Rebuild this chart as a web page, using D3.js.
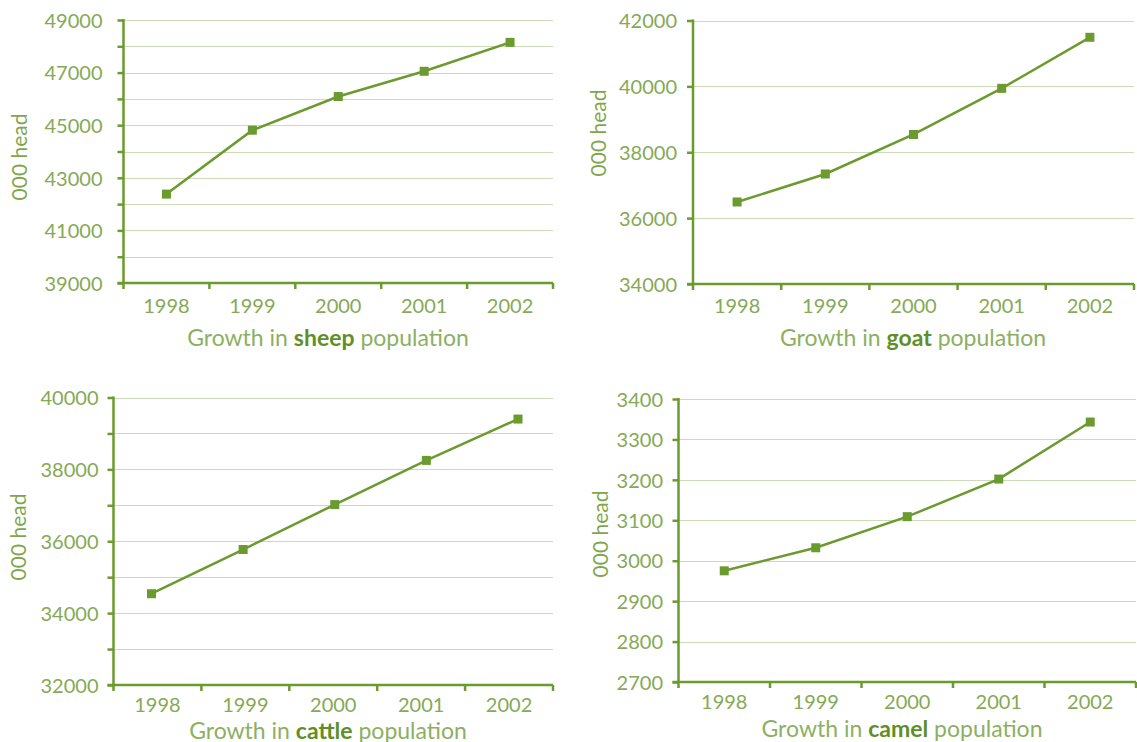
<!DOCTYPE html>
<html>
<head>
<meta charset="utf-8">
<script src="https://cdn.jsdelivr.net/npm/d3@7"></script>
<style>
  html, body { margin: 0; padding: 0; background: #ffffff; }
  svg { display: block; font-family: "Lato", "Open Sans", sans-serif; }
</style>
</head>
<body>
<script>
// ---------- data ----------
const years = ["1998", "1999", "2000", "2001", "2002"];

const sheep  = [42380, 44810, 46090, 47050, 48150];
const goat   = [36490, 37340, 38540, 39940, 41490];
const cattle = [34540, 35770, 37020, 38250, 39400];
const camel  = [2975, 3032, 3109, 3202, 3343];

const animals = ["sheep", "goat", "cattle", "camel"];

const sheepTicks  = [39000, 40000, 41000, 42000, 43000, 44000, 45000, 46000, 47000, 48000, 49000];
const sheepLabels = [39000, 41000, 43000, 45000, 47000, 49000];
const goatTicks   = [34000, 36000, 38000, 40000, 42000];
const goatLabels  = [34000, 36000, 38000, 40000, 42000];
const cattleTicks  = [32000, 33000, 34000, 35000, 36000, 37000, 38000, 39000, 40000];
const cattleLabels = [32000, 34000, 36000, 38000, 40000];
const camelTicks  = [2700, 2800, 2900, 3000, 3100, 3200, 3300, 3400];
const camelLabels = [2700, 2800, 2900, 3000, 3100, 3200, 3300, 3400];

const yTitle = "000 head";
const titleBefore = "Growth in ";
const titleAfter = " population";

// ---------- layout (positions only) ----------
const layout = [
  { values: sheep,  ticks: sheepTicks,  labels: sheepLabels,  animal: animals[0],
    left: 123.5, right: 553, top: 20, bottom: 283, labelPad: 15, xLabelY: 312.5,
    titleX: 328, titleY: 346, yTitleX: 20, yTitleY: 157 },
  { values: goat,   ticks: goatTicks,   labels: goatLabels,   animal: animals[1],
    left: 693, right: 1134, top: 20.5, bottom: 284, labelPad: 10, xLabelY: 312.5,
    titleX: 913, titleY: 346, yTitleX: 599, yTitleY: 133 },
  { values: cattle, ticks: cattleTicks, labels: cattleLabels, animal: animals[2],
    left: 113.5, right: 553, top: 397.5, bottom: 685, labelPad: 9, xLabelY: 711.5,
    titleX: 328, titleY: 738.5, yTitleX: 19, yTitleY: 537, pointRange: [151.5, 518] },
  { values: camel,  ticks: camelTicks,  labels: camelLabels,  animal: animals[3],
    left: 678.5, right: 1136, top: 399, bottom: 682, labelPad: 9.5, xLabelY: 709,
    titleX: 902, titleY: 737, yTitleX: 601, yTitleY: 534 }
];

// ---------- style ----------
const C_AXIS = "#6b9a2e";
const C_LINE = "#6b9a2e";
const C_GRID = "#cddcb8";
const C_TICK = "#85a956";
const C_TITLE = "#8cb062";
const C_BOLD = "#5f8f26";
const C_YTITLE = "#7fa64b";

const svg = d3.select("body").append("svg")
  .attr("width", 1137).attr("height", 742);

layout.forEach(cfg => {
  const g = svg.append("g");
  const domain = [cfg.ticks[0], cfg.ticks[cfg.ticks.length - 1]];
  const x = d3.scaleBand().domain(years).range([cfg.left, cfg.right]).padding(0);
  const y = d3.scaleLinear().domain(domain).range([cfg.bottom, cfg.top]);
  const bw = x.bandwidth();
  const xp = d3.scalePoint().domain(years)
    .range(cfg.pointRange || [x(years[0]) + bw / 2, x(years[years.length - 1]) + bw / 2]);

  // gridlines
  g.append("g").selectAll("line")
    .data(cfg.ticks.filter(t => t !== domain[0]))
    .join("line")
    .attr("x1", cfg.left).attr("x2", cfg.right)
    .attr("y1", d => Math.round(y(d)) + 0.5).attr("y2", d => Math.round(y(d)) + 0.5)
    .attr("stroke", C_GRID).attr("stroke-width", 1);

  // y axis
  const yAxis = d3.axisLeft(y)
    .tickValues(cfg.ticks)
    .tickSize(6).tickSizeOuter(0)
    .tickPadding(cfg.labelPad)
    .tickFormat(d => cfg.labels.includes(d) ? String(d) : "");
  const yg = g.append("g").attr("transform", `translate(${cfg.left},0)`).call(yAxis);
  yg.select(".domain").attr("stroke", C_AXIS).attr("stroke-width", 2.5)
    .attr("d", `M0,${cfg.bottom + 1}V${cfg.top - 1}`);
  yg.selectAll(".tick line").attr("stroke", C_AXIS).attr("stroke-width", 2.5);
  yg.selectAll(".tick text")
    .attr("fill", C_TICK).attr("font-size", 20).attr("dy", "0.36em")
    .attr("font-family", "Lato, 'Open Sans', sans-serif");

  // x axis line
  g.append("line")
    .attr("x1", cfg.left - 6).attr("x2", cfg.right)
    .attr("y1", cfg.bottom).attr("y2", cfg.bottom)
    .attr("stroke", C_AXIS).attr("stroke-width", 2.5);
  // x ticks at band boundaries
  const bounds = years.map(d => x(d)).concat([cfg.right]);
  g.append("g").selectAll("line")
    .data(bounds)
    .join("line")
    .attr("x1", d => d).attr("x2", d => d)
    .attr("y1", cfg.bottom).attr("y2", cfg.bottom + 6)
    .attr("stroke", C_AXIS).attr("stroke-width", 2.5);
  // x labels
  g.append("g").selectAll("text")
    .data(years)
    .join("text")
    .attr("x", d => x(d) + bw / 2)
    .attr("y", cfg.xLabelY)
    .attr("text-anchor", "middle")
    .attr("fill", C_TICK).attr("font-size", 20)
    .text(d => d);

  // line
  const line = d3.line()
    .x((d, i) => xp(years[i]))
    .y(d => y(d));
  g.append("path")
    .datum(cfg.values)
    .attr("d", line)
    .attr("fill", "none")
    .attr("stroke", C_LINE).attr("stroke-width", 2.5);

  // markers
  g.append("g").selectAll("rect")
    .data(cfg.values)
    .join("rect")
    .attr("x", (d, i) => xp(years[i]) - 4.5)
    .attr("y", d => y(d) - 4.5)
    .attr("width", 9).attr("height", 9)
    .attr("fill", C_LINE);

  // y title
  g.append("text")
    .attr("transform", `translate(${cfg.yTitleX},${cfg.yTitleY}) rotate(-90)`)
    .attr("text-anchor", "middle")
    .attr("dy", "0.35em")
    .attr("fill", C_YTITLE).attr("font-size", 21)
    .text(yTitle);

  // title
  const t = g.append("text")
    .attr("x", cfg.titleX).attr("y", cfg.titleY)
    .attr("text-anchor", "middle")
    .attr("font-size", 23)
    .attr("fill", C_TITLE);
  t.append("tspan").text(titleBefore);
  t.append("tspan").attr("font-weight", "bold").attr("fill", C_BOLD).text(cfg.animal);
  t.append("tspan").text(titleAfter);
});
</script>
</body>
</html>
